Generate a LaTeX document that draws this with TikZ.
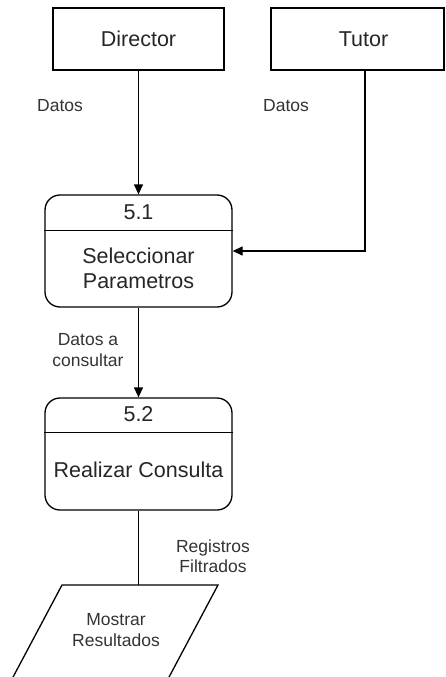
\documentclass[tikz,border=0pt]{standalone}
\usepackage{fontspec}
\setmainfont{Liberation Sans}
\usetikzlibrary{arrows.meta}

\tikzset{
  ext/.style={draw, line width=1.3pt, minimum width=171pt, minimum height=62pt,
    font=\fontsize{21.5}{25}\selectfont, text=black!85},
  proc/.style={draw, line width=1.3pt, rounded corners=15pt,
    minimum width=187pt, minimum height=112pt},
  big/.style={font=\fontsize{21.5}{25}\selectfont, align=center, text=black!85},
  lbl/.style={font=\fontsize{17.5}{20.5}\selectfont, align=center, text=black!80},
  flow/.style={line width=1.3pt, -{Triangle[length=10pt,width=9pt]}},
}

\begin{document}
\begin{tikzpicture}[x=1pt,y=-1pt]
  \useasboundingbox (0,0) rectangle (446,677);
  \clip (0,0) rectangle (446,677);

  % external entities
  \node[ext] (dir) at (138.5,39) {Director};
  \node[ext, minimum width=173pt] (tut) at (357.5,39) {\hspace{12pt}Tutor};

  % process 5.1
  \node[proc] (p51) at (138.5,251) {};
  \draw[line width=1.3pt] ([yshift=-36pt]p51.north west) -- ([yshift=-36pt]p51.north east);
  \node[big] (n51) at ([yshift=-18pt]p51.north) {5.1};
  \node[big] (t51) at ([yshift=-17pt]p51.center) {Seleccionar\\Parametros};

  % process 5.2
  \node[proc] (p52) at (138.5,454) {};
  \draw[line width=1.3pt] ([yshift=-35pt]p52.north west) -- ([yshift=-35pt]p52.north east);
  \node[big] (n52) at ([yshift=-17pt]p52.north) {5.2};
  \node[big] (t52) at ([yshift=-16pt]p52.center) {Realizar Consulta};

  % output
  \draw[line width=1.3pt] (62,585) -- (218,585) -- (168,679) -- (12,679) -- cycle;
  \coordinate (mtop) at (138.5,585);
  \node[lbl] (mos) at (116,630) {Mostrar\\Resultados};

  % flows
  \draw[flow] (dir) -- (p51);
  \draw[flow] ([xshift=7.5pt]tut.south) |- (p51.east);
  \draw[flow] (p51) -- (p52);
  \draw[line width=1.3pt] (p52) -- (mtop);

  % flow labels
  \node[lbl] (d1) at (60,106) {Datos};
  \node[lbl] (d2) at (286,106) {Datos};
  \node[lbl] (d3) at (88,350) {Datos a\\consultar};
  \node[lbl] (d4) at (213,556) {Registros\\Filtrados};

\end{tikzpicture}
\end{document}
